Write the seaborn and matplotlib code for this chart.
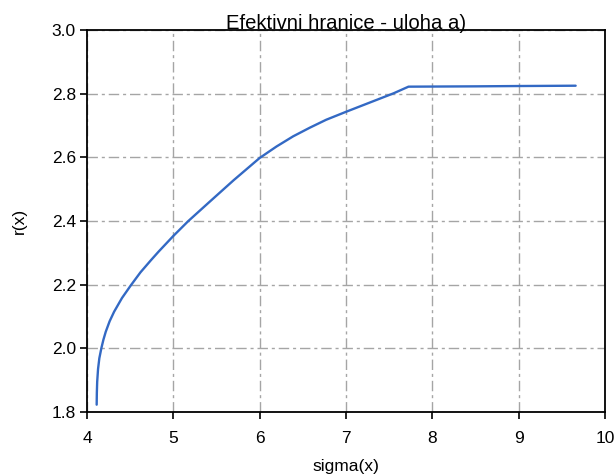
import numpy as np
import pandas as pd
import matplotlib
matplotlib.use("Agg")
import matplotlib.pyplot as plt
import seaborn as sns

sigma = [4.112, 4.114, 4.118, 4.128, 4.143, 4.166, 4.190, 4.217, 4.262, 4.314, 4.405,
         4.508, 4.620, 4.741, 4.83, 5.0, 5.174, 5.427, 5.698, 6.0, 6.195, 6.388,
         6.580, 6.770, 7.0, 7.36, 7.55, 7.724, 8.5, 9.0, 9.66]
r = [1.823, 1.86, 1.895, 1.935, 1.969, 2.0, 2.027, 2.052, 2.085, 2.115, 2.158,
     2.198, 2.239, 2.277, 2.304, 2.353, 2.40, 2.462, 2.528, 2.598, 2.634, 2.666,
     2.693, 2.718, 2.743, 2.781, 2.801, 2.822, 2.823, 2.824, 2.825]

title = "Efektivni hranice - uloha a)"
xlabel = "sigma(x)"
ylabel = "r(x)"
xticks = [4, 5, 6, 7, 8, 9, 10]
yticks = [1.8, 2.0, 2.2, 2.4, 2.6, 2.8, 3.0]

sns.set_style("white")
plt.rcParams['font.family'] = ['Liberation Sans', 'DejaVu Sans']

df = pd.DataFrame({"sigma": sigma, "r": r})

fig = plt.figure(figsize=(6.16, 4.75), dpi=100)
L, R, T, B = 87, 605, 30, 412
ax = fig.add_axes([L/616, 1 - B/475, (R-L)/616, (B-T)/475])

sns.lineplot(data=df, x="sigma", y="r", sort=False, estimator=None,
             color="#3369c4", linewidth=1.7, ax=ax)

ax.set_xlim(4, 10)
ax.set_ylim(1.8, 3.0)
ax.set_xticks(xticks)
ax.set_yticks(yticks)
ax.set_xticklabels([str(t) for t in xticks])
ax.set_yticklabels([f"{t:.1f}" for t in yticks])
ax.tick_params(direction="out", length=5, width=1.2, color="black",
               labelsize=12.5, labelcolor="black", bottom=True, left=True)
ax.tick_params(axis="x", pad=9)
ax.tick_params(axis="y", pad=3)
for s in ax.spines.values():
    s.set_color("black")
    s.set_linewidth(1.3)
ax.grid(True, color="#a5a5a5", linewidth=1.0, linestyle=(0, (7.5, 2.8, 2.2, 2.8)))
ax.set_axisbelow(True)

ax.set_title(title, fontsize=14.6, pad=1, color="black")
ax.set_xlabel(xlabel, fontsize=12.5, labelpad=9, color="black")
ax.set_ylabel(ylabel, fontsize=12.5, labelpad=18, color="black")

fig.savefig("out.png", dpi=100)
